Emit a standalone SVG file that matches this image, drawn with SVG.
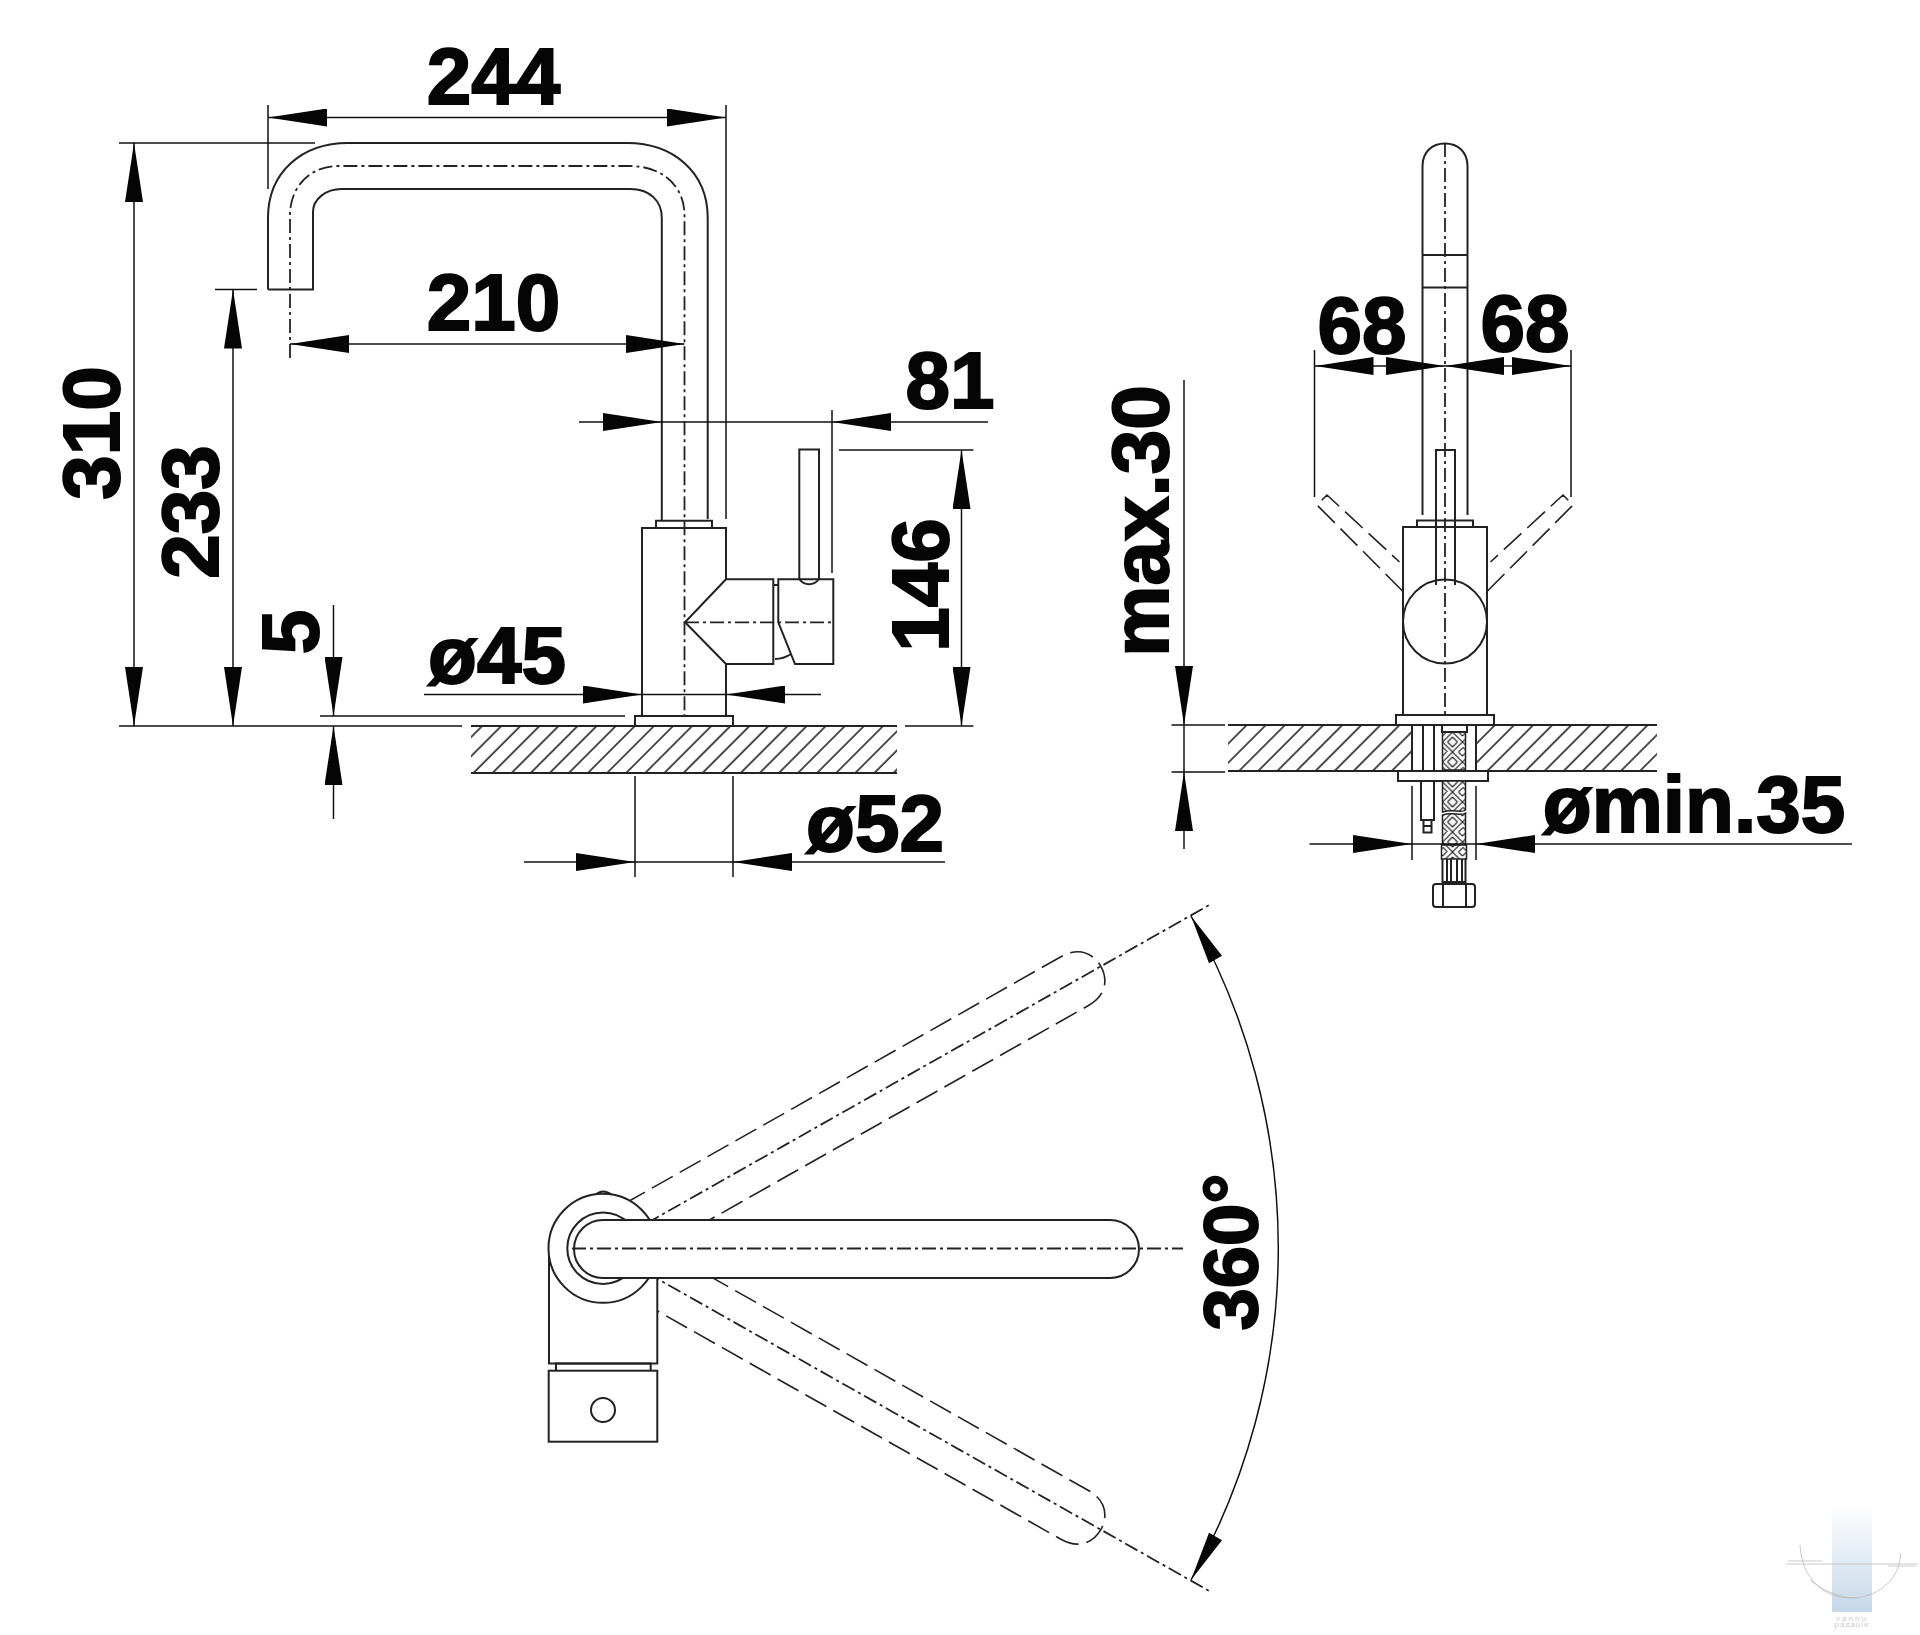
<svg xmlns="http://www.w3.org/2000/svg" width="1920" height="1635" viewBox="0 0 1920 1635">
<style>
.o{fill:none;stroke:#222;stroke-width:2}
.w{fill:#fff;stroke:#222;stroke-width:2}
.d{fill:none;stroke:#111;stroke-width:1.5}
.a{fill:none;stroke:#111;stroke-width:1.5;marker-start:url(#ah);marker-end:url(#ah)}
.e{fill:none;stroke:#111;stroke-width:1.5;marker-end:url(#ah)}
.c{fill:none;stroke:#222;stroke-width:1.8;stroke-dasharray:14 4 3 4}
.g{fill:none;stroke:#222;stroke-width:1.6;stroke-dasharray:24 8}
.t{font-family:"Liberation Sans",Arial,sans-serif;font-weight:700;font-size:80px;fill:#050505;stroke:#050505;stroke-width:2;text-anchor:middle}
.h{fill:url(#hatch)}
.m{fill:none;stroke:#bbb;stroke-width:.8}
</style>
<defs>
<marker id="ah" viewBox="0 0 59 18" refX="59" refY="9" markerWidth="59" markerHeight="18" markerUnits="userSpaceOnUse" orient="auto-start-reverse"><path d="M0 0L59 9L0 18Z" fill="#050505"/></marker>
<pattern id="hatch" width="13.5" height="40" patternUnits="userSpaceOnUse" patternTransform="translate(4 0) rotate(45)"><line x1="1" y1="0" x2="1" y2="40" stroke="#222" stroke-width="1.6"/></pattern>
<pattern id="braid" width="20" height="20" patternUnits="userSpaceOnUse" patternTransform="translate(1442.500 732)"><rect width="20" height="20" fill="#fff"/><path d="M0 4L4 0M0 10L10 0M5 10L10 5M10 5L15 10M10 0L20 10M16 0L20 4M0 15L5 20M0 10L10 20M5 10L10 15M10 15L15 10M10 20L20 10M16 20L20 16" stroke="#222" stroke-width="1.1" fill="none"/></pattern>
<linearGradient id="wm" x1="0" y1="0" x2="0" y2="1"><stop offset="0" stop-color="#fff"/><stop offset="1" stop-color="#c6d7e8"/></linearGradient>
</defs>
<rect width="1920" height="1635" fill="#fff"/>

<g id="side-view">
<rect class="h" x="471" y="726" width="426" height="47"/>
<path class="o" d="M471 726H897M471 773H897"/>
<path class="o" d="M268 289.500V218C268 172 302 143 348 143H627C673 143 707.700 172 707.700 218V519M268 289.500H313V212C313 199 326 189 341.500 189H630C650 189 661.800 201 661.800 218V521"/>
<path class="c" d="M290 358V215C290 186 311 166 338 166H630C662 166 684.500 186 684.500 215V716"/>
<path class="o" d="M656 520.700H712V528H656Z"/>
<path class="o" d="M642 716V528H726V579.300H773.300V664H726V716M726 579.300L685 622.300L726 664"/>
<rect class="w" x="635" y="716" width="98" height="10"/>
<path class="o" d="M773.300 585H778.300M775 659C783 659 788 656 791 654M778.300 579.300H833.300V664H795L778.300 622.300Z"/>
<path class="o" d="M799.300 579V449.500H819V579M799.300 579C804 586 814 586 819 579"/>
<path class="c" d="M685 622.300H833"/>
</g>

<g id="front-view">
<rect class="h" x="1228" y="725" width="184" height="46"/>
<rect class="h" x="1476" y="725" width="181" height="46"/>
<path class="o" d="M1228 725H1412M1228 771H1412M1476 725H1657M1476 771H1657"/>
<path class="o" d="M1422.500 515V166C1422.500 152 1432 143.500 1445 143.500S1467.500 152 1467.500 166V515M1422.500 255H1467.500M1422.500 287.500H1467.500"/>
<path class="o" d="M1417 527V520.500H1473V527"/>
<path class="g" d="M1402.500 591L1317 505L1327 495L1399.500 562M1487.500 591L1573 505L1563 495L1490.500 562"/>
<rect class="w" x="1403" y="527" width="84" height="189"/>
<circle class="w" cx="1445" cy="621.600" r="42"/>
<path class="o" d="M1436 585V450H1455V585"/>
<path class="c" d="M1445 143V716"/>
<rect class="w" x="1396" y="715" width="98" height="10"/>
<path class="o" d="M1412 725V770M1423 725V770M1434 725V770M1476 725V770"/>
<rect x="1442.500" y="732" width="23" height="38" fill="url(#braid)" stroke="#222" stroke-width="1.5"/>
<rect class="w" x="1442" y="725" width="25" height="7"/>
<rect class="w" x="1398" y="771" width="90" height="10"/>
<path d="M1442.500 781H1465.500V810C1460 814 1455 808 1442.500 812Z" fill="url(#braid)" stroke="#222" stroke-width="1.5"/>
<path d="M1442.500 815C1455 811 1460 817 1465.500 813V845H1442.500Z" fill="url(#braid)" stroke="#222" stroke-width="1.5"/>
<rect x="1441.500" y="845" width="25" height="14" fill="url(#braid)" stroke="#222" stroke-width="1.5"/>
<path class="o" d="M1442.500 859V882H1465.500V859M1447 859V882M1451 859V882M1457 859V882M1462 859V882"/>
<path class="o" d="M1436 884H1472Q1475 884 1475 887V904Q1475 907 1472 907H1436Q1433 907 1433 904V887Q1433 884 1436 884ZM1443 884V907M1466 884V907"/>
<path class="o" d="M1421 781V820H1434V781M1423.500 820V832.500H1431.500V820M1423.500 826H1431.500"/>
</g>

<g id="top-view">
<g transform="translate(603 1248) rotate(-29.500)">
<path class="g" d="M40 -28H542C565 -28 572 -12 572 0C572 12 565 28 542 28H40"/>
<path class="c" d="M50 0H698" stroke-dasharray="12 3 2 3 2 3"/>
</g>
<g transform="translate(603 1248) rotate(29.500)">
<path class="g" d="M40 -28H542C565 -28 572 -12 572 0C572 12 565 28 542 28H40"/>
<path class="c" d="M50 0H698" stroke-dasharray="12 3 2 3 2 3"/>
</g>
<rect x="549" y="1248" width="108" height="115" fill="#fff"/>
<path class="o" d="M549 1248V1363.500H657.300V1278"/>
<path class="o" d="M595 1195Q603 1188 612 1195"/>
<circle class="w" cx="603" cy="1248.300" r="54.500"/>
<circle class="o" cx="603" cy="1248.300" r="35.700"/>
<rect class="o" x="556" y="1363.500" width="94.700" height="7.500"/>
<rect class="w" x="548.700" y="1370.700" width="108.600" height="71"/>
<circle class="o" cx="603" cy="1410" r="12"/>
<path class="w" d="M603 1220H1110A29 29 0 0 1 1110 1278H603A29 29 0 0 1 603 1220Z"/>
<path class="c" style="stroke-width:2.200" d="M572 1248.500H1183"/>
</g>

<g id="watermark">
<rect x="1832" y="1505" width="40" height="107" fill="url(#wm)"/>
<path class="m" d="M1800 1545C1802 1580 1825 1598 1850 1598S1900 1582 1900.500 1553M1810 1580C1825 1592 1840 1598 1857 1598M1786 1564H1918M1788 1561H1822M1888 1566H1916"/>
<text x="1852" y="1621" font-family="Liberation Sans,sans-serif" font-size="8" letter-spacing="2" text-anchor="middle" fill="#ccc">vannu</text>
<text x="1852" y="1627" font-family="Liberation Sans,sans-serif" font-size="8" letter-spacing="1" text-anchor="middle" fill="#ccc">pasaule</text>
</g>

<g id="connectors">
<path class="d" d="M268 105V189M726 105V519M119 143H315M119 726H462M215 289.500H257M320 716H625M832 410V573M839 450H973.500M905 726H973.500M635 776V877M733 776V877M662 422H832M642 694.500H726M635 862H733"/>
<line class="a" x1="268" y1="117.500" x2="726" y2="117.500"/>
<line class="a" x1="134" y1="143" x2="134" y2="726"/>
<line class="a" x1="233" y1="289.500" x2="233" y2="726"/>
<line class="e" x1="333.500" y1="605" x2="333.500" y2="716"/>
<line class="e" x1="333.500" y1="819" x2="333.500" y2="726"/>
<line class="a" x1="290" y1="344" x2="684.500" y2="344"/>
<line class="e" x1="579" y1="422" x2="662" y2="422"/>
<line class="e" x1="988" y1="422" x2="832" y2="422"/>
<line class="a" x1="961.500" y1="450" x2="961.500" y2="726"/>
<line class="e" x1="424" y1="694.500" x2="642" y2="694.500"/>
<line class="e" x1="821" y1="694.500" x2="726" y2="694.500"/>
<line class="e" x1="524" y1="862" x2="635" y2="862"/>
<line class="e" x1="945" y1="862" x2="733" y2="862"/>
<path class="d" d="M1314.500 350V497M1571 350V497M1171.500 725H1225M1171.500 772H1225M1412 786V860M1476 786V860M1412 844H1476"/>
<line class="a" x1="1314.500" y1="366" x2="1445" y2="366"/>
<line class="a" x1="1571" y1="366" x2="1445" y2="366"/>
<line class="e" x1="1184" y1="380" x2="1184" y2="725"/>
<line class="e" x1="1184" y1="849" x2="1184" y2="772"/>
<path class="d" d="M1184 725V772"/>
<line class="e" x1="1309.500" y1="844" x2="1412" y2="844"/>
<line class="e" x1="1852" y1="844" x2="1476" y2="844"/>
<path class="d" d="M1191 916A675 675 0 0 1 1191 1580"/>
<path d="M1191 916L1222 955.800L1209 963.200ZM1191 1580L1222 1540.200L1209 1532.800Z" fill="#050505"/>
</g>

<g id="labels">
<text class="t" x="493.500" y="104">244</text>
<text class="t" x="493.500" y="330">210</text>
<text class="t" x="950" y="408">81</text>
<text class="t" x="497" y="683">ø45</text>
<text class="t" x="875" y="851">ø52</text>
<text class="t" transform="translate(119 433) rotate(-90)">310</text>
<text class="t" transform="translate(218 512) rotate(-90)">233</text>
<text class="t" transform="translate(318 632) rotate(-90)">5</text>
<text class="t" transform="translate(948 585) rotate(-90)">146</text>
<text class="t" transform="translate(1168 521) rotate(-90)">max.30</text>
<text class="t" x="1362" y="353">68</text>
<text class="t" x="1525" y="351">68</text>
<text class="t" x="1694" y="832">ømin.35</text>
<text class="t" style="font-size:76px" transform="translate(1257 1252) rotate(-90)">360°</text>
</g>
</svg>
